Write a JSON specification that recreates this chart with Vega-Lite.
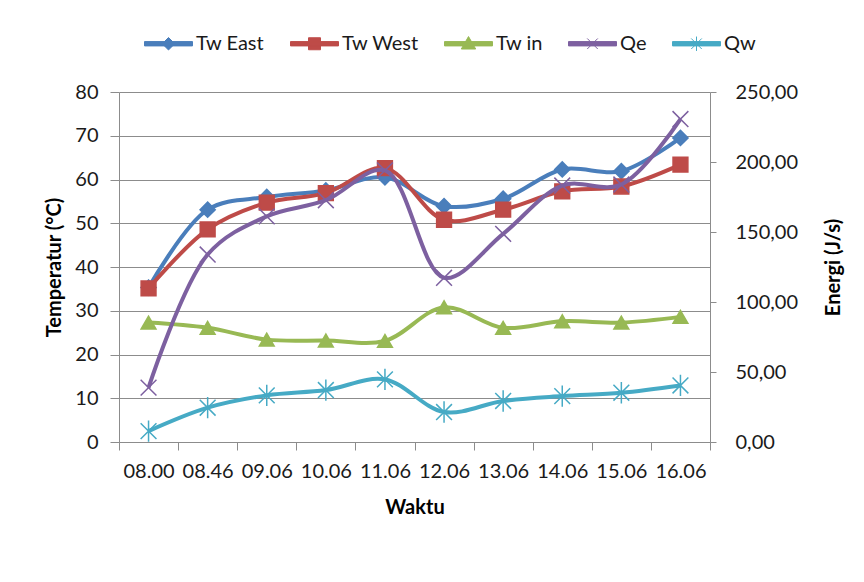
{
  "$schema": "https://vega.github.io/schema/vega-lite/v6.json",
  "width": 591,
  "height": 350,
  "autosize": {"type": "none"},
  "padding": {"left": 119, "top": 92, "right": 154, "bottom": 140},
  "background": "white",
  "config": {
    "font": "Lato",
    "view": {"stroke": null},
    "axis": {
      "labelFont": "Lato", "titleFont": "Lato", "labelFontSize": 20, "titleFontSize": 20,
      "labelColor": "#1a1a1a", "titleColor": "#000000", "titleFontWeight": "bold",
      "domainColor": "#8c8c8c", "tickColor": "#8c8c8c", "gridColor": "#8c8c8c",
      "domainWidth": 1, "tickWidth": 1, "gridWidth": 1
    }
  },
  "data": {"values": [
    {"waktu": "08.00", "series": "Tw East", "value": 35.3},
    {"waktu": "08.46", "series": "Tw East", "value": 53.1},
    {"waktu": "09.06", "series": "Tw East", "value": 56.0},
    {"waktu": "10.06", "series": "Tw East", "value": 57.5},
    {"waktu": "11.06", "series": "Tw East", "value": 60.5},
    {"waktu": "12.06", "series": "Tw East", "value": 53.9},
    {"waktu": "13.06", "series": "Tw East", "value": 55.6},
    {"waktu": "14.06", "series": "Tw East", "value": 62.3},
    {"waktu": "15.06", "series": "Tw East", "value": 61.9},
    {"waktu": "16.06", "series": "Tw East", "value": 69.5},
    {"waktu": "08.00", "series": "Tw West", "value": 35.1},
    {"waktu": "08.46", "series": "Tw West", "value": 48.6},
    {"waktu": "09.06", "series": "Tw West", "value": 54.7},
    {"waktu": "10.06", "series": "Tw West", "value": 56.9},
    {"waktu": "11.06", "series": "Tw West", "value": 62.6},
    {"waktu": "12.06", "series": "Tw West", "value": 50.8},
    {"waktu": "13.06", "series": "Tw West", "value": 53.1},
    {"waktu": "14.06", "series": "Tw West", "value": 57.3},
    {"waktu": "15.06", "series": "Tw West", "value": 58.4},
    {"waktu": "16.06", "series": "Tw West", "value": 63.4},
    {"waktu": "08.00", "series": "Tw in", "value": 27.3},
    {"waktu": "08.46", "series": "Tw in", "value": 26.1},
    {"waktu": "09.06", "series": "Tw in", "value": 23.4},
    {"waktu": "10.06", "series": "Tw in", "value": 23.2},
    {"waktu": "11.06", "series": "Tw in", "value": 23.1},
    {"waktu": "12.06", "series": "Tw in", "value": 30.8},
    {"waktu": "13.06", "series": "Tw in", "value": 26.1},
    {"waktu": "14.06", "series": "Tw in", "value": 27.6},
    {"waktu": "15.06", "series": "Tw in", "value": 27.3},
    {"waktu": "16.06", "series": "Tw in", "value": 28.6},
    {"waktu": "08.00", "series": "Qe", "value": 38.8},
    {"waktu": "08.46", "series": "Qe", "value": 133.9},
    {"waktu": "09.06", "series": "Qe", "value": 161.2},
    {"waktu": "10.06", "series": "Qe", "value": 172.7},
    {"waktu": "11.06", "series": "Qe", "value": 194.0},
    {"waktu": "12.06", "series": "Qe", "value": 117.3},
    {"waktu": "13.06", "series": "Qe", "value": 148.7},
    {"waktu": "14.06", "series": "Qe", "value": 183.2},
    {"waktu": "15.06", "series": "Qe", "value": 183.9},
    {"waktu": "16.06", "series": "Qe", "value": 230.7},
    {"waktu": "08.00", "series": "Qw", "value": 7.8},
    {"waktu": "08.46", "series": "Qw", "value": 24.5},
    {"waktu": "09.06", "series": "Qw", "value": 33.3},
    {"waktu": "10.06", "series": "Qw", "value": 37.1},
    {"waktu": "11.06", "series": "Qw", "value": 44.7},
    {"waktu": "12.06", "series": "Qw", "value": 21.4},
    {"waktu": "13.06", "series": "Qw", "value": 29.3},
    {"waktu": "14.06", "series": "Qw", "value": 32.8},
    {"waktu": "15.06", "series": "Qw", "value": 35.2},
    {"waktu": "16.06", "series": "Qw", "value": 40.4}
  ]},
  "encoding": {
    "x": {
      "field": "waktu", "type": "nominal", "bandPosition": 0.5,
      "scale": {"type": "band", "paddingInner": 0, "paddingOuter": 0,
        "domain": ["08.00", "08.46", "09.06", "10.06", "11.06", "12.06", "13.06", "14.06", "15.06", "16.06"]},
      "axis": {"title": "Waktu", "labelAngle": 0, "tickBand": "extent", "tickSize": 8, "labelPadding": 11, "titlePadding": 16, "grid": false}
    },
    "color": {
      "field": "series", "type": "nominal",
      "scale": {"domain": ["Tw East", "Tw West", "Tw in", "Qe", "Qw"],
        "range": ["#4a7ebb", "#be4b48", "#98b954", "#7d60a0", "#46aac5"]},
      "legend": {
        "title": null, "orient": "none", "legendX": 25, "legendY": -73,
        "direction": "horizontal", "columns": 5, "symbolSize": 2304,
        "labelFont": "Lato", "labelFontSize": 20, "labelColor": "#1a1a1a", "labelOffset": 3, "columnPadding": 23,
        "encode": {"symbols": {"update": {
          "shape": {"signal": "datum.value === 'Tw East' ? 'M-1,-0.09H1V0.09H-1ZM0,-0.26L0.26,0L0,0.26L-0.26,0Z' : datum.value === 'Tw West' ? 'M-1,-0.09H1V0.09H-1ZM-0.25,-0.25H0.25V0.25H-0.25Z' : datum.value === 'Tw in' ? 'M-1,-0.09H1V0.09H-1ZM0,-0.3L0.3,0.22H-0.3Z' : datum.value === 'Qe' ? 'M-1,-0.09H1V0.09H-1ZM-0.22,-0.22L0.22,0.22M-0.22,0.22L0.22,-0.22' : 'M-1,-0.09H1V0.09H-1ZM-0.22,-0.22L0.22,0.22M-0.22,0.22L0.22,-0.22M0,-0.3V0.3'"},
          "fill": {"scale": "color", "field": "value"},
          "stroke": {"scale": "color", "field": "value"},
          "strokeWidth": {"value": 1},
          "opacity": {"value": 1}
        }}}
      }
    }
  },
  "layer": [
    {
      "transform": [{"filter": {"field": "series", "oneOf": ["Tw East", "Tw West", "Tw in"]}}],
      "encoding": {
        "y": {"field": "value", "type": "quantitative",
          "scale": {"domain": [0, 80], "nice": false},
          "axis": {"title": "Temperatur (°C)", "values": [0, 10, 20, 30, 40, 50, 60, 70, 80], "tickSize": 9, "labelPadding": 12, "titlePadding": 10, "grid": true}}
      },
      "layer": [
        {"mark": {"type": "line", "interpolate": "catmull-rom", "strokeWidth": 4}},
        {"transform": [{"filter": {"field": "series", "equal": "Tw East"}}],
          "mark": {"type": "point", "filled": true, "shape": "diamond", "size": 230, "opacity": 1, "stroke": "#4a7ebb", "strokeWidth": 1.5}},
        {"transform": [{"filter": {"field": "series", "equal": "Tw West"}}],
          "mark": {"type": "point", "filled": true, "shape": "square", "size": 220, "opacity": 1, "stroke": "#be4b48", "strokeWidth": 1.5}},
        {"transform": [{"filter": {"field": "series", "equal": "Tw in"}}],
          "mark": {"type": "point", "filled": true, "shape": "triangle-up", "size": 220, "opacity": 1, "stroke": "#98b954", "strokeWidth": 1.5}}
      ]
    },
    {
      "transform": [{"filter": {"field": "series", "oneOf": ["Qe", "Qw"]}}],
      "encoding": {
        "y": {"field": "value", "type": "quantitative",
          "scale": {"domain": [0, 250], "nice": false},
          "axis": {"orient": "right", "title": "Energi (J/s)", "values": [0, 50, 100, 150, 200, 250],
            "labelExpr": "replace(format(datum.value, '.2f'), '.', ',')",
            "grid": false, "tickSize": 6, "labelPadding": 19, "titlePadding": 46, "titleAngle": 270}}
      },
      "layer": [
        {"mark": {"type": "line", "interpolate": "catmull-rom", "strokeWidth": 4}},
        {"transform": [{"filter": {"field": "series", "equal": "Qe"}}],
          "mark": {"type": "point", "filled": true, "shape": "M-1,-1L1,1M-1,1L1,-1", "size": 250, "opacity": 1, "stroke": "#7d60a0", "strokeWidth": 1.5}},
        {"transform": [{"filter": {"field": "series", "equal": "Qw"}}],
          "mark": {"type": "point", "filled": true, "shape": "M-1,-1L1,1M-1,1L1,-1M0,-1.35V1.35", "size": 250, "opacity": 1, "stroke": "#46aac5", "strokeWidth": 1.5}}
      ]
    }
  ],
  "resolve": {"scale": {"y": "independent"}}
}
